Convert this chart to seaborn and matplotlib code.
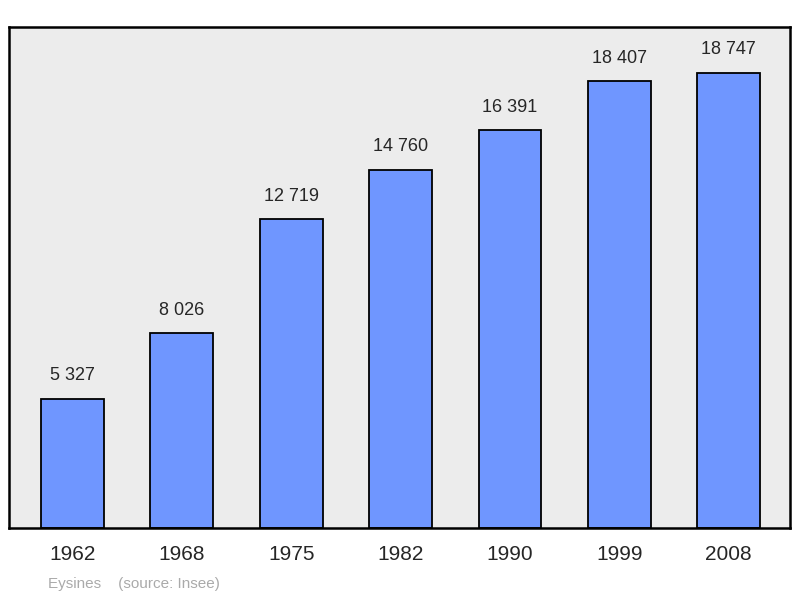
import pandas as pd
import seaborn as sns
import matplotlib.pyplot as plt

years = ["1962", "1968", "1975", "1982", "1990", "1999", "2008"]
population = [5327, 8026, 12719, 14760, 16391, 18407, 18747]
labels = ["5 327", "8 026", "12 719", "14 760", "16 391", "18 407", "18 747"]

df = pd.DataFrame({"year": years, "pop": population})

sns.set_style("white")
plt.rcParams["font.family"] = ["Liberation Sans", "DejaVu Sans"]

fig = plt.figure(figsize=(8, 5.98), dpi=100)
ax = fig.add_axes([9 / 800, 1 - 528 / 598, 781 / 800, 501 / 598])
ax.set_facecolor("#ececec")
sns.barplot(data=df, x="year", y="pop", color="#6f96ff", saturation=1,
            width=0.575, edgecolor="black", linewidth=1.3, ax=ax)

for i, (v, t) in enumerate(zip(population, labels)):
    ax.text(i, v + 600, t, ha="center", va="bottom", fontsize=13)

ax.set_xlim(-0.58, 6.56)
ax.set_ylim(0, 20640)
ax.set_yticks([])
ax.set_xlabel("")
ax.set_ylabel("")
ax.tick_params(axis="x", length=0, labelsize=15, pad=12)
for s in ax.spines.values():
    s.set_color("black")
    s.set_linewidth(1.8)

fig.text(48 / 800, 1 - 584 / 598, "Eysines    (source: Insee)", color="#aaaaaa",
         fontsize=11, va="center")

fig.savefig("out.png", dpi=100)
